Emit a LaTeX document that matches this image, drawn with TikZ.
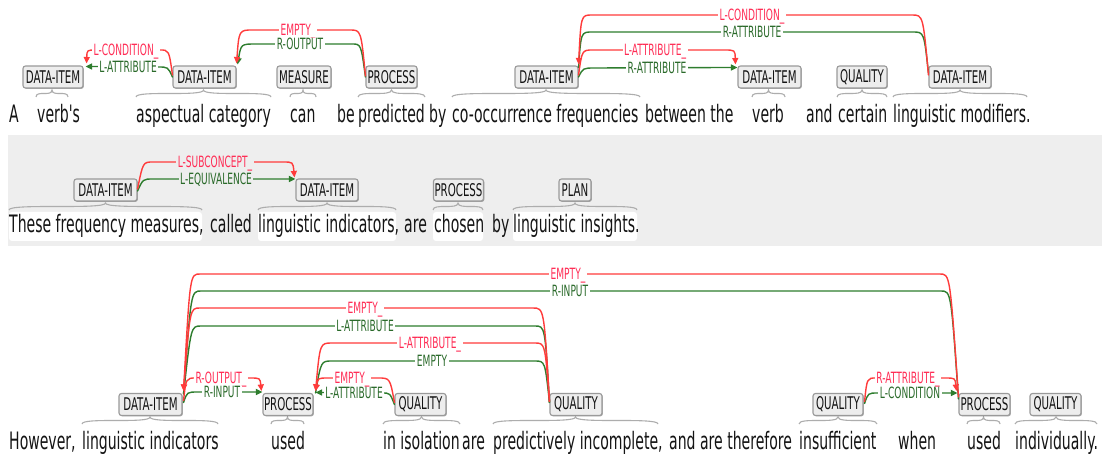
\documentclass[tikz,border=0pt]{standalone}
\usepackage{fontspec}
\setmainfont{DejaVu Sans}[FakeStretch=0.585]
\newfontfamily\straightfont{DejaVu Sans}[FakeStretch=0.585]
\usetikzlibrary{arrows.meta,calc,shadows}

\definecolor{arcred}{HTML}{FF3B3B}
\definecolor{arcgreen}{HTML}{2E7D2E}
\definecolor{labred}{HTML}{FF2D55}
\definecolor{labgreen}{HTML}{2A6A2A}
\definecolor{boxfill}{HTML}{EDEDED}
\definecolor{boxline}{HTML}{9A9A9A}
\definecolor{bandgray}{HTML}{EEEEEE}
\definecolor{bracegray}{HTML}{ADADAD}
\definecolor{ink}{HTML}{141414}

\tikzset{
  ent/.style={draw=boxline, fill=boxfill, rounded corners=2.5pt, line width=1.1pt,
    minimum height=22pt, inner sep=0pt, text=ink, font=\fontsize{17.5}{18}\selectfont,
    drop shadow={shadow xshift=0.9pt, shadow yshift=-0.9pt, opacity=0.3, fill=black}},
  word/.style={anchor=base west, inner sep=0pt, text=ink, font=\fontsize{24}{28}\selectfont},
  rel/.style={line width=1.4pt, line cap=round},
  redrel/.style={rel, draw=arcred},
  greenrel/.style={rel, draw=arcgreen},
  head/.style={-{Triangle[length=6.5pt,width=6pt]}},
  lab/.style={inner xsep=1.5pt, inner ysep=0.5pt, text height=11.3pt, text depth=0pt,
    font=\fontsize{15.5}{16}\selectfont, fill=white},
  redlab/.style={lab, text=labred},
  greenlab/.style={lab, text=labgreen},
  bandlab/.style={fill=bandgray},
  brace/.style={draw=bracegray, line width=1.1pt},
  spanbg/.style={fill=white, rounded corners=3pt},
}

% curly brace under a span: x1, x2, tip y, end y
\newcommand\spanbrace[4]{%
  \draw[brace] (#1,#4) .. controls (#1,#3) and ({(#1+#2)/2},#4) .. ({(#1+#2)/2},#3)
    .. controls ({(#1+#2)/2},#4) and (#2,#3) .. (#2,#4);}

\begin{document}
\begin{tikzpicture}[x=1pt,y=-1pt]
\useasboundingbox (0,0) rectangle (1102,454);
\fill[white] (0,0) rectangle (1102,454);
\fill[bandgray] (8,135) rectangle (1102,246);

% ---------- sentence 1 ----------
\node[word] (w1) at (9,123) {A};
\node[word] (w2) at (37,123) {verb{\straightfont '}s};
\node[word] (w3) at (136,123) {aspectual category};
\node[word] (w4) at (290,123) {can};
\node[word] (w5) at (337,123) {be};
\node[word] (w6) at (358,123) {predicted};
\node[word] (w7) at (429,123) {by};
\node[word] (w8) at (452,123) {co-occurrence frequencies};
\node[word] (w9) at (645,123) {between the};
\node[word] (w10) at (752,123) {verb};
\node[word] (w11) at (806,123) {and};
\node[word] (w12) at (838,123) {certain};
\node[word] (w13) at (893,123) {linguistic modifiers.};

\spanbrace{36}{68}{90}{97}
\spanbrace{136}{271}{90}{97}
\spanbrace{290}{316}{90}{97}
\spanbrace{358}{425}{90}{97}
\spanbrace{452}{640}{90}{97}
\spanbrace{752}{785}{90}{97}
\spanbrace{837}{887}{90}{97}
\spanbrace{893}{1027}{90}{97}

\node[ent, minimum width=60pt] (b1) at (53,77) {DATA-ITEM};
\node[ent, minimum width=63pt] (b2) at (204.5,77) {DATA-ITEM};
\node[ent, minimum width=54pt] (b3) at (304,77) {MEASURE};
\node[ent, minimum width=51pt] (b4) at (391.5,77) {PROCESS};
\node[ent, minimum width=63pt] (b5) at (546.5,77) {DATA-ITEM};
\node[ent, minimum width=63pt] (b6) at (769.5,77) {DATA-ITEM};
\node[ent, minimum width=50pt] (b7) at (862,77) {QUALITY};
\node[ent, minimum width=62pt] (b8) at (960,77) {DATA-ITEM};

\draw[greenrel, head] ($(b2.west)+(0,0)$) .. controls (168,67) .. (158,67) -- ($(b1.north east)+(2,1)$);
\draw[greenrel, head] ($(b4.west)+(0,0)$) .. controls (361,44) .. (352,44) -- (256,44) .. controls (241,44) .. ($(b2.north east)+(1,-1)$);
\draw[greenrel] ($(b5.north east)+(0,2)$) .. controls (581,32) .. (592,32) -- (913,32) .. controls (924,32) .. ($(b8.west)+(0,-4)$);
\draw[greenrel, head] ($(b5.east)+(0,0)$) .. controls (583,68) .. (595,68) -- ($(b6.north west)+(0,2)$);

\draw[redrel, head] ($(b2.west)+(0,-2)$) .. controls (169,50) .. (160,50) -- (96,50) .. controls (87,50) .. ($(b1.north east)+(3,-2)$);
\draw[redrel, head] ($(b4.west)+(0,-1)$) .. controls (361,30) .. (350,30) -- (253,30) .. controls (239,30) .. ($(b2.north east)+(0,-2)$);
\draw[redrel, head] ($(b8.west)+(0,-2)$) .. controls (923,15) .. (912,15) -- (592,15) .. controls (581,15) .. ($(b5.north east)+(0,-1)$);
\draw[redrel, head] ($(b5.east)+(0,-2)$) .. controls (582,50) .. (593,50) -- (724,50) .. controls (735,50) .. ($(b6.north west)+(-2,-1)$);

\node[redlab] (l1) at (126,50) {L-CONDITION\_};
\node[greenlab] (l2) at (128,67) {L-ATTRIBUTE};
\node[redlab] (l3) at (298,30) {EMPTY\_};
\node[greenlab] (l4) at (300,44) {R-OUTPUT};
\node[redlab] (l5) at (752,15) {L-CONDITION\_};
\node[greenlab] (l6) at (752,32) {R-ATTRIBUTE};
\node[redlab] (l7) at (655,50) {L-ATTRIBUTE\_};
\node[greenlab] (l8) at (657,68) {R-ATTRIBUTE};

% ---------- sentence 2 ----------
\fill[spanbg] (9,212) rectangle (202,241);
\fill[spanbg] (258,212) rectangle (396,241);
\fill[spanbg] (433,212) rectangle (483,241);
\fill[spanbg] (513,212) rectangle (637,241);

\node[word] (w14) at (9,233) {These frequency measures,};
\node[word] (w15) at (210,233) {called};
\node[word] (w16) at (258,233) {linguistic indicators,};
\node[word] (w17) at (404,233) {are};
\node[word] (w18) at (434,233) {chosen};
\node[word] (w19) at (492,233) {by};
\node[word] (w20) at (513,233) {linguistic insights.};

\spanbrace{9}{202}{203}{210}
\spanbrace{258}{396}{203}{210}
\spanbrace{433}{483}{203}{210}
\spanbrace{513}{637}{203}{210}

\node[ent, minimum width=63pt] (c1) at (105.5,190) {DATA-ITEM};
\node[ent, minimum width=62pt] (c2) at (327,190) {DATA-ITEM};
\node[ent, minimum width=50pt] (c3) at (458.5,190) {PROCESS};
\node[ent, minimum width=32pt] (c4) at (575,190) {PLAN};

\draw[greenrel, head] ($(c1.east)+(0,1)$) .. controls (143,179) .. (153,179) -- ($(c2.north west)+(0,0.5)$);
\draw[redrel, head] ($(c1.east)+(0,-1)$) .. controls (143,162) .. (153,162) -- (283,162) .. controls (293,162) .. ($(c2.north west)+(-1,-1)$);

\node[redlab, bandlab] (l9) at (215,162) {L-SUBCONCEPT\_};
\node[greenlab, bandlab] (l10) at (216,179) {L-EQUIVALENCE};

% ---------- sentence 3 ----------
\node[word] (w21) at (9,449) {However,};
\node[word] (w22) at (82,449) {linguistic indicators};
\node[word] (w23) at (271,449) {used};
\node[word] (w24) at (383,449) {in isolation};
\node[word] (w25) at (462,449) {are};
\node[word] (w26) at (493,449) {predictively incomplete,};
\node[word] (w27) at (669,449) {and are therefore};
\node[word] (w28) at (799,449) {insufficient};
\node[word] (w29) at (898,449) {when};
\node[word] (w30) at (967,449) {used};
\node[word] (w31) at (1015,449) {individually.};

\spanbrace{82}{218}{417}{424}
\spanbrace{271}{304}{417}{424}
\spanbrace{383}{460}{417}{424}
\spanbrace{493}{658}{417}{424}
\spanbrace{799}{877}{417}{424}
\spanbrace{967}{1000}{417}{424}
\spanbrace{1015}{1097}{417}{424}

\node[ent, minimum width=63pt] (d1) at (150.5,404.5) {DATA-ITEM};
\node[ent, minimum width=50pt] (d2) at (288,404.5) {PROCESS};
\node[ent, minimum width=51pt] (d3) at (420.5,404.5) {QUALITY};
\node[ent, minimum width=52pt] (d4) at (576,404.5) {QUALITY};
\node[ent, minimum width=50pt] (d5) at (838,404.5) {QUALITY};
\node[ent, minimum width=51pt] (d6) at (984.5,404.5) {PROCESS};
\node[ent, minimum width=51pt] (d7) at (1055.5,404.5) {QUALITY};

\draw[greenrel] ($(d1.north east)+(1,1)$) .. controls (191,291) .. (201,291) -- (941,291) .. controls (951,291) .. ($(d6.north west)+(0,6)$);
\draw[greenrel] ($(d1.north east)+(1,1)$) .. controls (191,326) .. (201,326) -- (535,326) .. controls (545,326) .. ($(d4.west)+(0,-2)$);
\draw[greenrel] ($(d2.north east)+(2,0)$) .. controls (321,361) .. (332,361) -- (535,361) .. controls (545,361) .. ($(d4.west)+(0,-2)$);
\draw[greenrel, head] ($(d1.east)+(1,-2)$) .. controls (187,392) .. (198,392) -- ($(d2.north west)+(0,-1)$);
\draw[greenrel, head] ($(d3.west)+(0,0)$) .. controls (390,393) .. (382,393) -- ($(d2.north east)+(2,-0.5)$);
\draw[greenrel, head] ($(d5.east)+(1,-1)$) .. controls (868,393) .. (878,393) -- ($(d6.north west)+(-1,0)$);

\draw[redrel, head] ($(d6.north west)+(0,4)$) .. controls (950,274) .. (940,274) -- (200,274) .. controls (190,274) .. ($(d1.north east)+(1,-2)$);
\draw[redrel, head] ($(d4.west)+(0,-3)$) .. controls (544,308) .. (533,308) -- (200,308) .. controls (190,308) .. ($(d1.north east)+(1,-2)$);
\draw[redrel, head] ($(d4.west)+(0,-3)$) .. controls (545,343) .. (535,343) -- (332,343) .. controls (320,343) .. ($(d2.north east)+(2,-2)$);
\draw[redrel, head] ($(d1.east)+(1,-4)$) .. controls (186,378) .. (196,378) -- (250,378) .. controls (260,378) .. ($(d2.north west)+(-1,-2)$);
\draw[redrel, head] ($(d3.west)+(0,-2)$) .. controls (390,378) .. (378,378) -- (328,378) .. controls (318,378) .. ($(d2.north east)+(2,-2)$);
\draw[redrel, head] ($(d5.east)+(1,-3)$) .. controls (867,378) .. (876,378) -- (945,378) .. controls (955,378) .. ($(d6.north west)+(-2,-2)$);

\node[redlab] (l11) at (568,274) {EMPTY\_};
\node[greenlab] (l12) at (570,291) {R-INPUT};
\node[redlab] (l13) at (365,308) {EMPTY\_};
\node[greenlab] (l14) at (365,326) {L-ATTRIBUTE};
\node[redlab] (l15) at (430,343) {L-ATTRIBUTE\_};
\node[greenlab] (l16) at (432,361) {EMPTY};
\node[redlab] (l17) at (221,378) {R-OUTPUT\_};
\node[greenlab] (l18) at (222,392) {R-INPUT};
\node[redlab] (l19) at (352,378) {EMPTY\_};
\node[greenlab] (l20) at (354,393) {L-ATTRIBUTE};
\node[redlab] (l21) at (908,378) {R-ATTRIBUTE\_};
\node[greenlab] (l22) at (910,393) {L-CONDITION};
\end{tikzpicture}
\end{document}
